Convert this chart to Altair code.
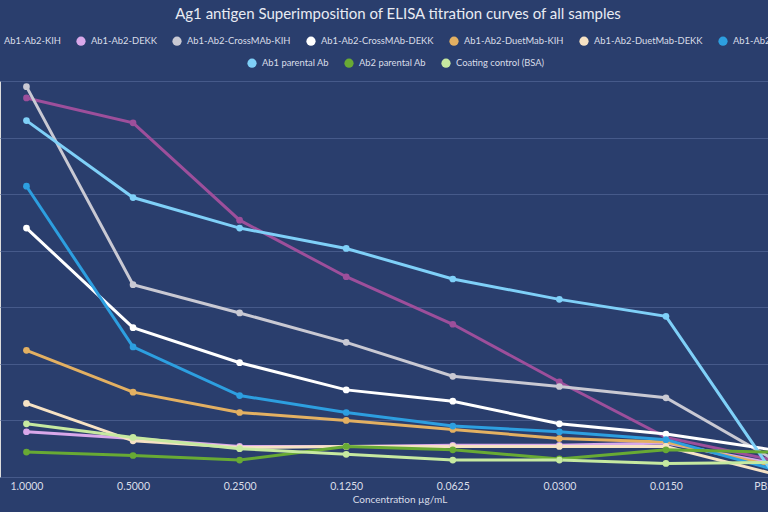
import altair as alt
import pandas as pd

concentrations = ["1.0000", "0.5000", "0.2500", "0.1250", "0.0625", "0.0300", "0.0150", "PBS"]

series_row1 = ["Ab1-Ab2-KIH", "Ab1-Ab2-DEKK", "Ab1-Ab2-CrossMAb-KIH", "Ab1-Ab2-CrossMAb-DEKK",
               "Ab1-Ab2-DuetMab-KIH", "Ab1-Ab2-DuetMab-DEKK", "Ab1-Ab2-DVD-Ig"]
series_row2 = ["Ab1 parental Ab", "Ab2 parental Ab", "Coating control (BSA)"]
colors_row1 = ["#9d4f9b", "#d9a8ea", "#c9c9d3", "#ffffff", "#e3b062", "#f6e2c4", "#2d9fe0"]
colors_row2 = ["#7fd0f8", "#68aa34", "#c6e9a0"]

kih = [3.35, 3.13, 2.27, 1.77, 1.35, 0.84, 0.35, 0.15]
dekk = [0.40, 0.34, 0.27, 0.27, 0.28, 0.28, 0.30, 0.12]
crossmab_kih = [3.45, 1.70, 1.45, 1.19, 0.89, 0.80, 0.70, 0.16]
crossmab_dekk = [2.20, 1.32, 1.01, 0.77, 0.67, 0.47, 0.38, 0.24]
duetmab_kih = [1.12, 0.75, 0.57, 0.50, 0.42, 0.34, 0.31, 0.10]
duetmab_dekk = [0.65, 0.32, 0.26, 0.27, 0.27, 0.27, 0.27, 0.03]
dvd_ig = [2.57, 1.15, 0.72, 0.57, 0.45, 0.40, 0.33, 0.07]
ab1_parental = [3.15, 2.47, 2.20, 2.02, 1.75, 1.57, 1.42, 0.04]
ab2_parental = [0.22, 0.19, 0.15, 0.27, 0.24, 0.16, 0.24, 0.22]
bsa_control = [0.47, 0.35, 0.25, 0.20, 0.15, 0.15, 0.12, 0.13]

values_row1 = [kih, dekk, crossmab_kih, crossmab_dekk, duetmab_kih, duetmab_dekk, dvd_ig]
values_row2 = [ab1_parental, ab2_parental, bsa_control]


def make_df(names, vals):
    rows = []
    for name, v in zip(names, vals):
        for c, val in zip(concentrations, v):
            rows.append({"series": name, "conc": c, "od": val})
    return pd.DataFrame(rows)


df1 = make_df(series_row1, values_row1)
df2 = make_df(series_row2, values_row2)

FONT = "Lato"
BG = "#2a3e6d"
GRID = "#465a8a"
TXT = "#d9dde8"

x_enc = alt.X(
    "conc:N", sort=concentrations,
    scale=alt.Scale(type="point", range=[0, 799], padding=0.2483),
    axis=alt.Axis(
        title="Concentration µg/mL", titleFontWeight="normal", titleFontSize=10,
        titleColor=TXT, titlePadding=3, labelColor=TXT, labelFontSize=10.5,
        labelPadding=4, labelAngle=0, ticks=False, domain=False, grid=False,
        labelAlign={"expr": "datum.value == 'PBS' ? 'right' : 'center'"},
    ),
)
y_enc = alt.Y(
    "od:Q", scale=alt.Scale(domain=[0, 3.5], nice=False),
    axis=alt.Axis(title=None, labels=False, ticks=False, domain=False, grid=True,
                  values=[0, 0.5, 1, 1.5, 2, 2.5, 3, 3.5], gridColor=GRID, gridWidth=1),
)


def group_layer(df, names, colors, lx, ly):
    leg = alt.Legend(orient="none", direction="horizontal",
                     legendX=lx, legendY=ly, title=None,
                     symbolType="circle", symbolSize=85,
                     symbolStrokeWidth=0, symbolOpacity=1, labelFontSize=9.4,
                     labelColor=TXT, labelFont=FONT,
                     labelOffset=5, columnPadding=15)
    col = alt.Color("series:N", sort=names,
                    scale=alt.Scale(domain=names, range=colors), legend=leg)
    base = alt.Chart(df).encode(x=x_enc, y=y_enc, color=col)
    lines = base.mark_line(strokeWidth=3)
    pts = base.mark_point(filled=True, size=45, opacity=1)
    return alt.layer(lines, pts)


chart = alt.layer(
    group_layer(df1, series_row1, colors_row1, -11, -45),
    group_layer(df2, series_row2, colors_row2, 247, -23),
).resolve_scale(color="independent").resolve_legend(color="independent").properties(
    width=768, height=396,
    autosize=alt.AutoSizeParams(type="none"),
    padding={"left": 0, "right": 0, "top": 81, "bottom": 35},
    background=BG,
    title=alt.TitleParams(
        "Ag1 antigen Superimposition of ELISA titration curves of all samples",
        anchor="middle", frame="group", fontSize=15, fontWeight="normal",
        color="#e8ebf3", font=FONT, offset=14, dx=14,
    ),
).configure_view(stroke=None).configure(font=FONT)

chart.save("out.html", embed_options={"renderer": "svg", "actions": False})
